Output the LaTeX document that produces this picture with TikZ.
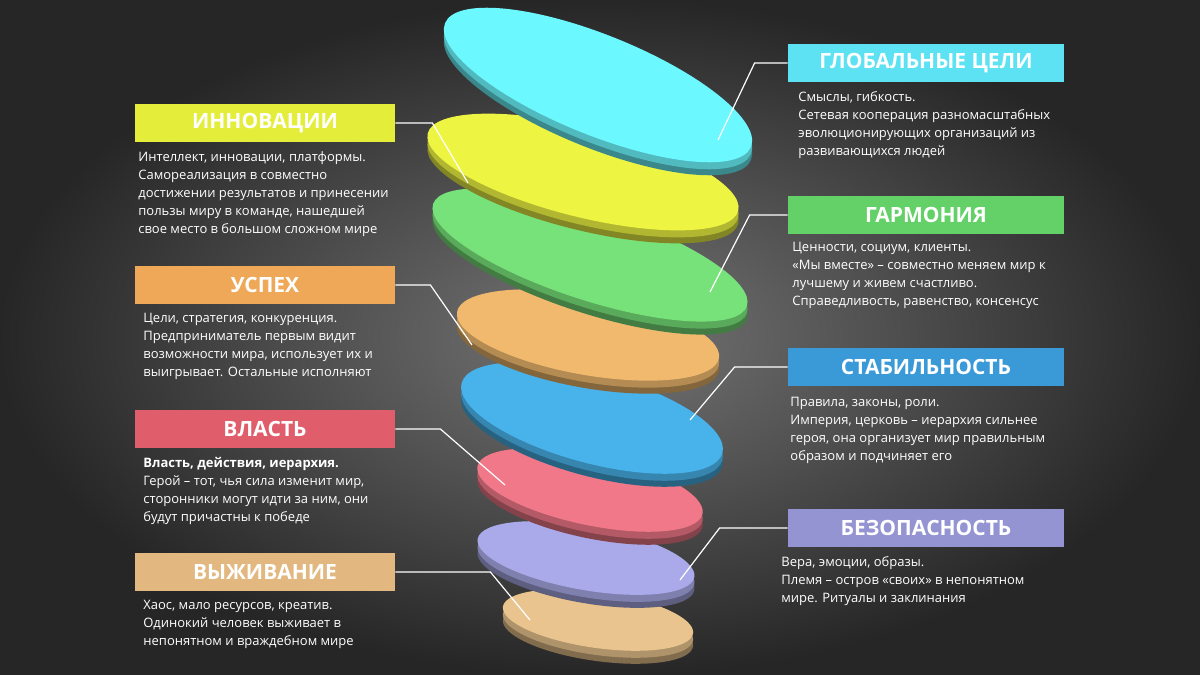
\documentclass[tikz,border=0pt]{standalone}
\usepackage{fontspec}
\setmainfont{Open Sans}
\usetikzlibrary{shadings}
\definecolor{cCy}{HTML}{6CF8FF}\definecolor{cYe}{HTML}{EEF442}\definecolor{cGr}{HTML}{78E27A}
\definecolor{cOr}{HTML}{F0B96E}\definecolor{cBl}{HTML}{48B2EA}\definecolor{cPk}{HTML}{F07888}
\definecolor{cLv}{HTML}{AAAAEA}\definecolor{cTn}{HTML}{EAC48E}
\definecolor{bYe}{HTML}{E4EE3A}\definecolor{bOr}{HTML}{EEA858}\definecolor{bPk}{HTML}{E05E6C}
\definecolor{bTn}{HTML}{E2B880}\definecolor{bCy}{HTML}{5CE2F2}\definecolor{bGr}{HTML}{64D068}
\definecolor{bBl}{HTML}{3A9AD8}\definecolor{bLv}{HTML}{9494D2}
\begin{document}
\begin{tikzpicture}[x=0.5pt,y=-0.5pt,
 title/.style={minimum width=130pt,minimum height=19pt,inner sep=0pt,text=white,font=\fontsize{10.5}{12}\selectfont\bfseries},
 desc/.style={anchor=north west,text=white,align=left,inner sep=0pt,font=\fontsize{6.5}{9}\selectfont},
 lead/.style={white,line width=0.6pt}]
\shade[inner color=black!60!white!90,outer color=black!85] (0,0) rectangle (1200,675);
\useasboundingbox (0,0) rectangle (1200,675);
% discs bottom to top
\foreach \cx/\cy/\rx/\ry/\a/\c in {598/620/96/28/-8/cTn, 586/558/110/32/-10/cLv, 590/490/115/35/-12/cPk, 592/418/135/45/-15/cBl, 588/335/133/40/-10/cOr, 590/255/165/45/-18/cGr, 583/172/160/45/-14/cYe, 598/85/165/50/-22/cCy}{
 \fill[\c!55!black] (\cx,\cy+13) ellipse[x radius=\rx*0.5pt,y radius=\ry*0.5pt,rotate=\a];
 \fill[\c!75!black] (\cx,\cy+7) ellipse[x radius=\rx*0.5pt,y radius=\ry*0.5pt,rotate=\a];
 \fill[\c] (\cx,\cy) ellipse[x radius=\rx*0.5pt,y radius=\ry*0.5pt,rotate=\a];
}
% left boxes
\node[title,fill=bYe] (b1) at (265,123) {ИННОВАЦИИ};
\node[title,fill=bOr] (b2) at (265,285) {УСПЕХ};
\node[title,fill=bPk] (b3) at (265,429) {ВЛАСТЬ};
\node[title,fill=bTn] (b4) at (265,572) {ВЫЖИВАНИЕ};
\node[title,fill=bCy,minimum width=138pt] (r1) at (926,63) {ГЛОБАЛЬНЫЕ ЦЕЛИ};
\node[title,fill=bGr,minimum width=138pt] (r2) at (926,215) {ГАРМОНИЯ};
\node[title,fill=bBl,minimum width=138pt] (r3) at (926,367) {СТАБИЛЬНОСТЬ};
\node[title,fill=bLv,minimum width=138pt] (r4) at (926,528) {БЕЗОПАСНОСТЬ};
% descriptions
\node[desc] (d1) at (138,151) {Интеллект, инновации, платформы.\\Самореализация в совместно\\достижении результатов и принесении\\пользы миру в команде, нашедшей\\свое место в большом сложном мире};
\node[desc] (d2) at (143,313) {Цели, стратегия, конкуренция.\\Предприниматель первым видит\\возможности мира, использует их и\\выигрывает. Остальные исполняют};
\node[desc] (d3) at (143,457) {\textbf{Власть, действия, иерархия.}\\Герой -- тот, чья сила изменит мир,\\сторонники могут идти за ним, они\\будут причастны к победе};
\node[desc] (d4) at (143,600) {Хаос, мало ресурсов, креатив.\\Одинокий человек выживает в\\непонятном и враждебном мире};
\node[desc] (e1) at (798,91) {Смыслы, гибкость.\\Сетевая кооперация разномасштабных\\эволюционирующих организаций из\\развивающихся людей};
\node[desc] (e2) at (792,242) {Ценности, социум, клиенты.\\«Мы вместе» -- совместно меняем мир к\\лучшему и живем счастливо.\\Справедливость, равенство, консенсус};
\node[desc] (e3) at (790,397) {Правила, законы, роли.\\Империя, церковь -- иерархия сильнее\\героя, она организует мир правильным\\образом и подчиняет его};
\node[desc] (e4) at (781,556) {Вера, эмоции, образы.\\Племя -- остров «своих» в непонятном\\мире. Ритуалы и заклинания};
% leaders
\coordinate (p1) at (468,183); \coordinate (p2) at (472,345); \coordinate (p3) at (505,485); \coordinate (p4) at (530,620);
\coordinate (q1) at (718,140); \coordinate (q2) at (710,292); \coordinate (q3) at (690,420); \coordinate (q4) at (680,580);
\draw[lead] (b1.east) -- ++(37,0) -- (p1);
\draw[lead] (b2.east) -- ++(35,0) -- (p2);
\draw[lead] (b3.east) -- ++(45,0) -- (p3);
\draw[lead] (b4.east) -- ++(95,0) -- (p4);
\draw[lead] (r1.west) -- ++(-33,0) -- (q1);
\draw[lead] (r2.west) -- ++(-38,0) -- (q2);
\draw[lead] (r3.west) -- ++(-53,0) -- (q3);
\draw[lead] (r4.west) -- ++(-68,0) -- (q4);
\end{tikzpicture}
\end{document}
